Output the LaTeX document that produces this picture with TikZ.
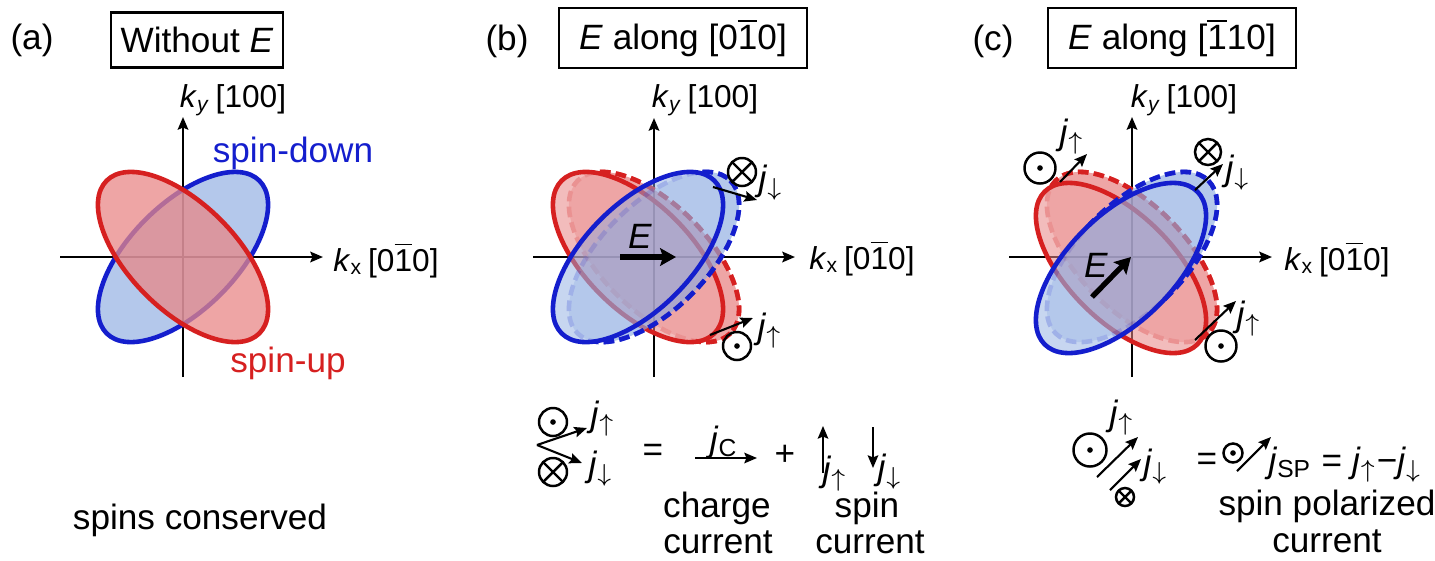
\documentclass[tikz,border=0pt]{standalone}
\usepackage{fontspec}
\setmainfont{Liberation Sans}
\usetikzlibrary{arrows.meta}
\definecolor{upline}{RGB}{214,32,32}
\definecolor{downline}{RGB}{20,30,205}
\definecolor{uppale}{RGB}{232,135,135}
\definecolor{downpale}{RGB}{140,171,224}
\newcommand\bone{\ensuremath{\overline{\mbox{1}}}}
\newcommand\jup{\textit{j}\textsubscript{$\uparrow$}}
\newcommand\jdown{\textit{j}\textsubscript{$\downarrow$}}
\newcommand\klabel[2]{{\fontsize{9}{10}\selectfont\textit{k}\textsubscript{#1}\,[#2]}}
\begin{document}
\begin{tikzpicture}[x=0.01cm,y=-0.01cm,>={Stealth[length=3.6pt,width=3pt,inset=0.6pt]},
  titlebox/.style={draw,line width=0.6pt,minimum height=0.6cm,inner sep=2pt},
  axis/.style={->,line width=0.7pt},
  uppath/.style={draw=upline,line width=1.3pt},
  downpath/.style={draw=downline,line width=1.3pt},
  updash/.style={uppath,fill=uppale,dash pattern=on 3pt off 1.5pt},
  downdash/.style={downpath,fill=downpale,dash pattern=on 3pt off 1.5pt},
  dotsym/.style={circle,draw,line width=0.7pt,minimum size=0.28cm,inner sep=0pt,
    path picture={\fill (path picture bounding box.center) circle (0.8pt);}},
  crosssym/.style={circle,draw,line width=0.7pt,minimum size=0.28cm,inner sep=0pt,
    path picture={\draw[line width=0.7pt] (path picture bounding box.north west) -- (path picture bounding box.south east)
      (path picture bounding box.north east) -- (path picture bounding box.south west);}},
  jarrow/.style={->,line width=0.6pt},
  Earrow/.style={-{Stealth[length=4.5pt,width=5pt,inset=0.8pt]},line width=1.5pt}]
  \useasboundingbox (0,0) rectangle (1435,560);

  % ---------- (a) ohne Feld ----------
  \node (labela) at (32,40) {(a)};
  \node[titlebox,minimum width=1.72cm,minimum height=0.55cm] (boxa) at (197,40) {Without \textit{E}};
  % Achsen
  \draw[axis] (60,257) -- (323,257);
  \draw[axis] (183,377) -- (183,117);
  \node (kya) at (233,100) {\klabel{\textit{y}}{100}};
  \node (kxa) at (386,260) {\klabel{x}{0\bone0}};
  % Fermiflaechen
  \draw[downpath,fill=downpale,fill opacity=0.65] (183,257) ellipse [x radius=108,y radius=53,rotate=45];
  \draw[uppath,fill=uppale,fill opacity=0.75] (183,257) ellipse [x radius=108,y radius=53,rotate=-45];
  \node[text=downline] (downa) at (293,153) {spin-down};
  \node[text=upline] (upa) at (288,363) {spin-up};
  \node[anchor=base] (consa) at (200,529) {spins conserved};

  % ---------- (b) E entlang x ----------
  \node (labelb) at (507,41) {(b)};
  \node[titlebox,minimum width=2.47cm] (boxb) at (683,38) {\textit{E} along [0\bone0]};
  % Achsen
  \draw[axis] (533,257) -- (795,257);
  \draw[axis] (654,377) -- (654,118);
  \node (kyb) at (705,100) {\klabel{\textit{y}}{100}};
  \node (kxb) at (862,258) {\klabel{x}{0\bone0}};
  % spin-up: Gleichgewicht (gestrichelt) und verschoben
  \begin{scope}[transparency group,opacity=0.75]
    \draw[updash] (654,257) ellipse [x radius=108,y radius=53,rotate=-45];
    \fill[uppale,fill opacity=0.75] (638,257) ellipse [x radius=108,y radius=53,rotate=-45];
  \end{scope}
  \begin{scope}
    \clip (490,1) -- (802,513) -- (1058,357) -- (746,-155) -- cycle;
    \draw[uppath,dash pattern=on 3pt off 1.5pt] (654,257) ellipse [x radius=108,y radius=53,rotate=-45];
  \end{scope}
  \draw[uppath] (638,257) ellipse [x radius=108,y radius=53,rotate=-45];
  % spin-down
  \begin{scope}[transparency group,opacity=0.65]
    \draw[downdash] (654,257) ellipse [x radius=108,y radius=53,rotate=45];
    \fill[downpale,fill opacity=0.75] (638,257) ellipse [x radius=108,y radius=53,rotate=45];
  \end{scope}
  \begin{scope}
    \clip (802,1) -- (490,513) -- (746,669) -- (1058,157) -- cycle;
    \draw[downpath,dash pattern=on 3pt off 1.5pt] (654,257) ellipse [x radius=108,y radius=53,rotate=45];
  \end{scope}
  \draw[downpath] (638,257) ellipse [x radius=108,y radius=53,rotate=45];
  % Feld
  \coordinate (Ebs) at (620,257);
  \coordinate (Ebe) at (676,257);
  \draw[Earrow] (Ebs) -- (Ebe);
  \node (Eb) at (640,236) {\textit{E}};
  % Stroeme
  \node[crosssym] (crossb) at (742,172) {};
  \coordinate (jdbs) at (713,187);
  \coordinate (jdbe) at (757,200);
  \draw[jarrow] (jdbs) -- (jdbe);
  \node (jdb) at (771,183) {\jdown};
  \node[dotsym] (dotb) at (737,346) {};
  \coordinate (jubs) at (710,335);
  \coordinate (jube) at (753,318);
  \draw[jarrow] (jubs) -- (jube);
  \node (jub) at (770,331) {\jup};
  % Zerlegung
  \node[dotsym] (dotb2) at (553,422) {};
  \node[crosssym] (crossb2) at (553,472) {};
  \coordinate (forkb) at (537,445);
  \coordinate (forkbu) at (587,428);
  \coordinate (forkbd) at (582,463);
  \draw[jarrow] (forkb) -- (forkbu);
  \draw[jarrow] (forkb) -- (forkbd);
  \node (jub2) at (603,419) {\jup};
  \node (jdb2) at (601,469) {\jdown};
  \node (eqb) at (653,453) {=};
  \coordinate (jcs) at (695,458);
  \coordinate (jce) at (757,458);
  \draw[jarrow] (jcs) -- (jce);
  \node (jcb) at (724,442) {\textit{j}\textsubscript{C}};
  \node (plusb) at (785,455) {+};
  \coordinate (sus) at (823,473);
  \coordinate (sue) at (823,426);
  \draw[jarrow] (sus) -- (sue);
  \node (jub3) at (835,474) {\jup};
  \coordinate (sds) at (873,427);
  \coordinate (sde) at (873,468);
  \draw[jarrow] (sds) -- (sde);
  \node (jdb3) at (890,472) {\jdown};
  \node[anchor=base] (chargeb) at (717,517) {charge};
  \node[anchor=base] (chcurb) at (718,553) {current};
  \node[anchor=base] (spinb) at (867,517) {spin};
  \node[anchor=base] (spcurb) at (870,553) {current};

  % ---------- (c) E diagonal ----------
  \node (labelc) at (993,41) {(c)};
  \node[titlebox,minimum width=2.47cm] (boxc) at (1172,38) {\textit{E} along [\bone10]};
  % Achsen
  \draw[axis] (1009,257) -- (1272,257);
  \draw[axis] (1132,377) -- (1132,117);
  \node (kyc) at (1184,100) {\klabel{\textit{y}}{100}};
  \node (kxc) at (1337,259) {\klabel{x}{0\bone0}};
  % spin-up: Gleichgewicht (gestrichelt) und verschoben
  \begin{scope}[transparency group,opacity=0.75]
    \draw[updash] (1132,257) ellipse [x radius=108,y radius=53,rotate=-45];
    \fill[uppale,fill opacity=0.75] (1121,268) ellipse [x radius=108,y radius=53,rotate=-45];
  \end{scope}
  \begin{scope}
    \clip (914,50) -- (1339,475) -- (1551,263) -- (1126,-162) -- cycle;
    \draw[uppath,dash pattern=on 3pt off 1.5pt] (1132,257) ellipse [x radius=108,y radius=53,rotate=-45];
  \end{scope}
  \draw[uppath] (1121,268) ellipse [x radius=108,y radius=53,rotate=-45];
  % spin-down
  \begin{scope}[transparency group,opacity=0.65]
    \draw[downdash] (1132,257) ellipse [x radius=108,y radius=53,rotate=45];
    \fill[downpale,fill opacity=0.75] (1121,268) ellipse [x radius=108,y radius=53,rotate=45];
  \end{scope}
  \begin{scope}
    \clip (914,50) -- (1339,475) -- (1551,263) -- (1126,-162) -- cycle;
    \draw[downpath,dash pattern=on 3pt off 1.5pt] (1132,257) ellipse [x radius=108,y radius=53,rotate=45];
  \end{scope}
  \draw[downpath] (1121,268) ellipse [x radius=108,y radius=53,rotate=45];
  % Feld
  \coordinate (Ecs) at (1092,297);
  \coordinate (Ece) at (1131,257);
  \draw[Earrow] (Ecs) -- (Ece);
  \node (Ec) at (1096,265) {\textit{E}};
  % Stroeme
  \node[dotsym,minimum size=0.31cm] (dotc) at (1040,168) {};
  \coordinate (juc1s) at (1060,182);
  \coordinate (juc1e) at (1087,154);
  \draw[jarrow] (juc1s) -- (juc1e);
  \node (juc1) at (1072,137) {\jup};
  \node[crosssym,minimum size=0.26cm] (crossc) at (1208,152) {};
  \coordinate (jdcs) at (1195,190);
  \coordinate (jdce) at (1223,164);
  \draw[jarrow] (jdcs) -- (jdce);
  \node (jdc) at (1238,173) {\jdown};
  \node[dotsym,minimum size=0.31cm] (dotc2) at (1221,346) {};
  \coordinate (juc2s) at (1195,340);
  \coordinate (juc2e) at (1236,301);
  \draw[jarrow] (juc2s) -- (juc2e);
  \node (juc2) at (1249,319) {\jup};
  % spinpolarisierter Strom
  \node[dotsym,minimum size=0.33cm] (dotc3) at (1090,450) {};
  \node[crosssym,minimum size=0.18cm] (crossc3) at (1125,497) {};
  \coordinate (pc1s) at (1097,477);
  \coordinate (pc1e) at (1138,437);
  \coordinate (pc2s) at (1110,490);
  \coordinate (pc2e) at (1141,459);
  \draw[jarrow] (pc1s) -- (pc1e);
  \draw[jarrow] (pc2s) -- (pc2e);
  \node (juc3) at (1122,418) {\jup};
  \node (jdc3) at (1156,467) {\jdown};
  \node (eqc) at (1207,462) {=};
  \node[dotsym,minimum size=0.19cm] (dotc4) at (1233,453) {};
  \coordinate (spcs) at (1237,471);
  \coordinate (spce) at (1271,437);
  \draw[jarrow] (spcs) -- (spce);
  \node[anchor=west,inner sep=0pt] (jspc) at (1268,465) {\textit{j}\textsubscript{SP} = \jup−\jdown};
  \node[anchor=base] (spolc) at (1327,515) {spin polarized};
  \node[anchor=base] (spcurc) at (1327,552) {current};
\end{tikzpicture}
\end{document}
